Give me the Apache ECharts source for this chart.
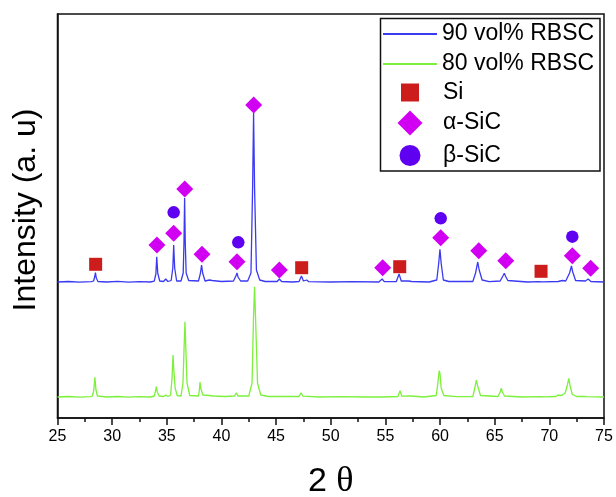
<!DOCTYPE html>
<html>
<head>
<meta charset="utf-8">
<script src="https://cdn.jsdelivr.net/npm/echarts@6/dist/echarts.min.js"></script>
<style>html,body{margin:0;padding:0;background:#fff}#c{width:616px;height:497px}</style>
</head>
<body>
<div id="c"></div>
<script>
// 2-theta (deg) vs intensity (arbitrary units)
const xTicks = [25, 30, 35, 40, 45, 50, 55, 60, 65, 70, 75];

const rbsc90 = [[25,136],[26,136.5],[27,135.8],[28.1,136.3],[28.3,137],[28.4,141],[28.47,145.3],[28.55,140],[28.7,136.5],[29.5,136],[30.5,136.6],[31.5,135.8],[32.5,136.4],[33.5,136],[33.85,136.8],[34.0,144],[34.08,161.3],[34.17,145],[34.35,137],[34.7,136.5],[34.9,139],[35.1,136.5],[35.4,137.5],[35.55,150],[35.63,173],[35.72,150],[35.9,137],[36.3,137],[36.5,145],[36.57,175],[36.63,220],[36.69,175],[36.77,145],[37.0,137.5],[37.9,137],[38.08,145],[38.18,153],[38.28,145],[38.5,137],[38.9,138],[39.0,140],[39.15,137.5],[40,136.5],[41.1,137],[41.32,142],[41.42,145],[41.52,141],[41.75,137],[42.4,137],[42.7,145],[42.85,230],[42.94,305],[43.03,230],[43.2,148],[43.5,138],[44,136.5],[45.1,136.5],[45.3,139],[45.5,136.5],[46.5,136],[47.1,136.5],[47.32,142],[47.5,137],[47.8,138],[48,136.3],[50,136],[52,136.4],[54.4,136],[54.7,139],[54.9,136.3],[56,136.5],[56.25,144],[56.45,137],[57.1,137],[57.25,138.5],[57.4,136.5],[59,136],[59.7,138],[59.88,155],[59.99,168.7],[60.1,155],[60.3,138],[60.8,136.5],[63,136.5],[63.25,145],[63.45,156],[63.58,148],[63.85,138],[64.5,136.3],[65.5,137],[65.75,142],[65.88,144.7],[65.98,142],[66.2,137.5],[68,136],[69.05,136.3],[69.2,138],[69.35,136.2],[70.8,136.5],[71.2,137.5],[71.5,137],[71.85,145],[72.02,152],[72.14,146],[72.4,137.5],[73.3,137],[73.55,139],[73.8,136.5],[75,136]];

const rbsc80 = [[25,21],[26,21.5],[27,20.8],[28,21.3],[28.2,22],[28.32,28],[28.42,40.7],[28.52,28],[28.65,22],[29.5,21],[30.5,21.5],[31.5,20.8],[32.5,21.3],[33.5,21],[33.85,22],[33.97,27],[34.04,31.3],[34.13,26],[34.3,22],[34.7,21.5],[34.9,23],[35.1,21.5],[35.35,23],[35.48,40],[35.57,63],[35.63,50],[35.68,52],[35.76,30],[35.95,22.5],[36.3,22],[36.48,35],[36.58,70],[36.66,96.3],[36.74,70],[36.85,35],[37.1,22.5],[37.9,22],[37.98,28],[38.04,36],[38.1,30],[38.15,31],[38.3,23],[38.9,22.5],[39.05,24],[39.25,22],[40.3,21.5],[41.2,22],[41.36,25.3],[41.5,22],[42.5,22],[42.8,35],[42.93,100],[43.03,131.3],[43.12,100],[43.3,35],[43.6,23],[44.3,21.5],[45.1,21.5],[45.26,22.7],[45.4,21.5],[47.1,21.5],[47.28,25.3],[47.45,21.8],[49,21],[51,21.4],[53,21],[54.45,21.2],[54.6,21.7],[54.8,21],[56.15,21.5],[56.34,27.3],[56.5,21.8],[57.3,22],[58.5,21],[59.65,22.5],[59.8,35],[59.92,47.3],[60.0,44],[60.1,30],[60.35,22.5],[61.5,21.3],[63,21.5],[63.18,30],[63.32,38],[63.44,32],[63.7,22.5],[65.3,21.5],[65.5,26],[65.6,29.7],[65.7,26],[65.9,22],[67.5,21],[69.25,21.3],[69.39,22.3],[69.55,21.2],[70.6,21.5],[70.8,23],[71.0,22.5],[71.2,23],[71.45,25],[71.65,33],[71.78,39.7],[71.9,32],[72.1,23.5],[72.5,21.5],[73.15,21.5],[73.3,22.3],[73.45,21.3],[75,21]];

const siMarks = [[28.49,153.7],[47.34,150.3],[56.31,151.3],[69.24,146.7]];
const alphaMarks = [[34.10,173],[35.63,184.7],[36.64,229],[38.22,163.7],[41.42,156.3],[42.95,313],[45.3,148],[54.75,150.3],[60.06,180.3],[63.54,167.3],[66.01,157.3],[72.10,162.3],[73.78,149.7]];
const betaMarks = [[35.63,205.7],[41.54,175.7],[60.06,199.7],[72.10,181.3]];

const blue = '#3a3af2', green = '#7cf03c', red = '#cc1c1c', magenta = '#d200f2', purple = '#6000f0';
const font = 'Liberation Sans, Arial, sans-serif';
function legText(padLeft) {
  return {fontSize: 23, fontFamily: font, color: '#000', padding: [0, 0, 0, padLeft]};
}

const chart = echarts.init(document.getElementById('c'), null, {renderer: 'canvas'});
chart.setOption({
  animation: false,
  backgroundColor: '#fff',
  grid: {left: 57.5, right: 12, top: 14, bottom: 79, show: true, borderColor: '#111', borderWidth: 1.5,
         containLabel: false, outerBoundsMode: 'none'},
  xAxis: {
    type: 'value', min: xTicks[0], max: xTicks[xTicks.length - 1], interval: 5,
    name: '{a|2} {b|θ}', nameLocation: 'middle', nameGap: 46,
    nameTextStyle: {fontSize: 34, fontFamily: font, color: '#000',
      rich: {a: {fontSize: 34, fontFamily: font, color: '#000'},
             b: {fontSize: 36, fontFamily: 'Liberation Serif, Times New Roman, serif', color: '#000'}}},
    axisLine: {show: true, lineStyle: {color: '#111', width: 1.5}},
    axisTick: {show: true, inside: false, length: 7, lineStyle: {color: '#111', width: 1.5}},
    minorTick: {show: true, splitNumber: 2, length: 4, lineStyle: {color: '#111', width: 1.5}},
    axisLabel: {fontSize: 16, fontFamily: font, color: '#000', margin: 11},
    splitLine: {show: false}
  },
  yAxis: {
    type: 'value', min: 0, max: 404,
    name: 'Intensity (a. u)', nameLocation: 'middle', nameGap: 15,
    nameTextStyle: {fontSize: 32, fontFamily: font, color: '#000', padding: [0, 0, 0, 12]},
    axisLine: {show: true, lineStyle: {color: '#111', width: 1.5}},
    axisTick: {show: false}, axisLabel: {show: false}, splitLine: {show: false}
  },
  legend: [
    {data: [{name: '90 vol% RBSC', icon: 'rect'}, {name: '80 vol% RBSC', icon: 'rect'}], orient: 'vertical', left: 383, top: 22.5,
     itemWidth: 54, itemHeight: 2, itemGap: 7, textStyle: legText(0), padding: 0},
    {data: [{name: 'Si', icon: 'rect'}], left: 401, top: 81, itemWidth: 18, itemHeight: 18, textStyle: legText(19), padding: 0},
    {data: [{name: 'α-SiC', icon: 'diamond'}], left: 397.5, top: 110.5, itemWidth: 25, itemHeight: 25, textStyle: legText(15.5), padding: 0},
    {data: [{name: 'β-SiC', icon: 'circle'}], left: 399.5, top: 144, itemWidth: 21, itemHeight: 21, textStyle: legText(17.5), padding: 0}
  ],
  graphic: [{
    type: 'rect', shape: {x: 380.5, y: 18.5, width: 219.5, height: 152.5},
    style: {fill: 'none', stroke: '#111', lineWidth: 1.5}, z: 100
  }],
  series: [
    {name: '90 vol% RBSC', type: 'line', data: rbsc90, symbol: 'none', lineStyle: {color: blue, width: 1.3}, itemStyle: {color: blue}, z: 2},
    {name: '80 vol% RBSC', type: 'line', data: rbsc80, symbol: 'none', lineStyle: {color: green, width: 1.3}, itemStyle: {color: green}, z: 2},
    {name: 'Si', type: 'scatter', data: siMarks, symbol: 'rect', symbolSize: 13, itemStyle: {color: red, opacity: 1}, z: 5},
    {name: 'α-SiC', type: 'scatter', data: alphaMarks, symbol: 'diamond', symbolSize: 17, itemStyle: {color: magenta, opacity: 1}, z: 5},
    {name: 'β-SiC', type: 'scatter', data: betaMarks, symbol: 'circle', symbolSize: 12.5, itemStyle: {color: purple, opacity: 1}, z: 5}
  ]
});
</script>
</body>
</html>
